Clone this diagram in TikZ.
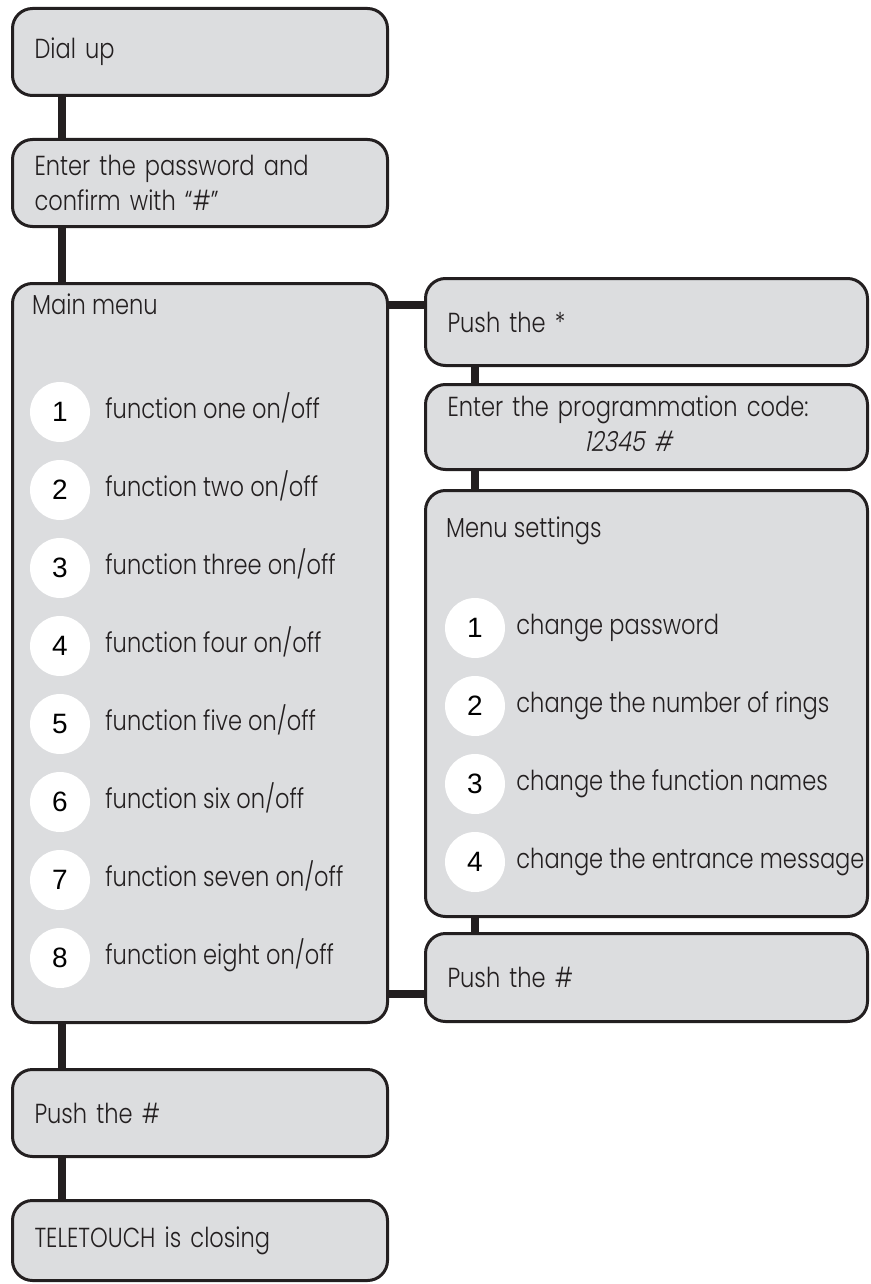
\documentclass[tikz,border=0pt]{standalone}
\usepackage{fontspec}
\IfFontExistsTF{Poppins Light}
  {\setmainfont{Poppins Light}[FakeStretch=0.82]
   \newfontfamily\slantfont{Poppins Light}[FakeStretch=0.82,FakeSlant=0.2]}
  {\setmainfont{Poppins}[FakeStretch=0.82]
   \newfontfamily\slantfont{Poppins}[FakeStretch=0.82,FakeSlant=0.2]}
\newfontfamily\digitfont{Liberation Sans}
\usetikzlibrary{backgrounds,positioning}
\definecolor{boxgray}{HTML}{DCDDDF}
\definecolor{inkgray}{HTML}{231F20}
\tikzset{every picture/.style={
  line join=round                 % Round joins everywhere.
  }
}

\begin{document}
\begin{tikzpicture}[
    x=1pt, y=-1pt,
    font=\fontsize{27.5}{35}\selectfont,
    text=inkgray,
    box/.style={
      rectangle,
      rounded corners=20pt,
      draw=inkgray,
      line width=3pt,
      fill=boxgray,
      inner xsep=22pt,
      inner ysep=0pt,
      align=left,
      minimum height=87pt
    },
    lbox/.style={box, text width=331pt},
    rbox/.style={box, text width=398pt},
    num/.style={
      circle,
      fill=white,
      minimum size=60pt,
      inner sep=0pt,
      font=\fontsize{28}{28}\digitfont,
      text=black
    },
    item/.style={anchor=base west, inner sep=0pt},
    link/.style={draw=inkgray, line width=8pt}
  ]
  \useasboundingbox (0,0) rectangle (870,1284);

  % Draw the left column of steps.
  \begin{scope}[
    node distance=41pt
    ]
    \node[lbox, anchor=north west] (dial) at (11,7) {Dial up};
    \node[lbox, below=of dial] (pass)
      {Enter the password and\\confirm with “\#”};
    \node[lbox, below=54pt of pass, minimum height=739pt] (main) {};
    \node[lbox, below=44pt of main] (hashl) {Push the \#};
    \node[lbox, below=of hashl, minimum height=80pt] (close)
      {TELETOUCH is closing};
  \end{scope}

  % Draw the right column of steps.
  \node[rbox, anchor=north west] (star) at (424,277) {Push the *};
  \node[rbox, below=16pt of star, minimum height=85pt] (code)
    {\begin{tabular}{@{}c@{}}Enter the programmation code:\\
      \slantfont 12345 \#\end{tabular}};
  \node[rbox, below=18pt of code, minimum height=426pt] (sett) {};
  \node[rbox, below=14pt of sett, minimum height=88pt] (hashr) {Push the \#};

  % Label the two menus.
  \node[item] (maint) at ([xshift=21pt,yshift=-32pt]main.north west)
    {Main menu};
  \node[item] (settt) at ([xshift=22pt,yshift=-48pt]sett.north west)
    {Menu settings};

  % Main menu entries.
  \foreach \i/\w in {1/one,2/two,3/three,4/four,5/five,6/six,7/seven,8/eight} {
    \node[num] (m\i) at ([xshift=49pt,yshift={-130pt-78pt*(\i-1)}]main.north west) {\i};
    \node[item] (mi\i) at ([xshift=15pt,yshift=-6pt]m\i.east)
      {function \w\ on/off};
  }

  % Settings menu entries.
  \foreach \i/\t in {1/change password,2/change the number of rings,
      3/change the function names,4/change the entrance message} {
    \node[num] (s\i) at ([xshift=51pt,yshift={-139pt-78pt*(\i-1)}]sett.north west) {\i};
    \node[item] (si\i) at ([xshift=11pt,yshift=-6pt]s\i.east) {\t};
  }

  % Link the steps behind the boxes.
  \begin{scope}[on background layer]
    \foreach \a/\b in {dial/pass,pass/main,main/hashl,hashl/close,
        star/code,code/sett,sett/hashr}
      \draw[link] ([xshift=51pt]\a.west) -- ([xshift=51pt]\b.west);
    \coordinate (j1) at ([yshift=17pt]star.west);
    \coordinate (j2) at ([yshift=-16pt]hashr.west);
    \draw[link] (j1) -- (j1 -| main.center);
    \draw[link] (j2) -- (j2 -| main.center);
  \end{scope}
\end{tikzpicture}
\end{document}
